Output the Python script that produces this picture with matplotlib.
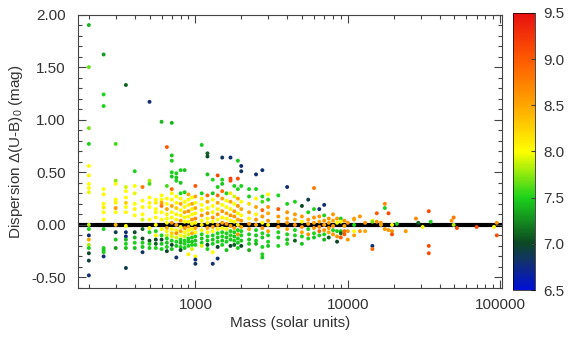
import numpy as np
import matplotlib
matplotlib.use('Agg')
import matplotlib.pyplot as plt
from matplotlib.colors import LinearSegmentedColormap
from matplotlib.ticker import FixedLocator, FormatStrFormatter, NullFormatter

plt.rcParams['font.family'] = ['Liberation Sans', 'DejaVu Sans']
plt.rcParams['mathtext.default'] = 'regular'
plt.rcParams['axes.unicode_minus'] = False

# points as (mass, dispersion, log age)
pts_200_600 = [
    (200, 1.90, 7.4), (200, 1.50, 7.65), (200, 0.92, 7.7), (200, 0.77, 7.5), (200, 0.56, 8.0), (200, 0.47, 8.05),
    (200, 0.39, 8.0), (200, 0.35, 8.0), (200, 0.31, 7.95), (200, 0.0, 7.85), (200, -0.04, 7.5), (200, -0.10, 6.8),
    (200, -0.14, 8.5), (200, -0.19, 7.8), (200, -0.22, 7.5), (200, -0.27, 7.0), (200, -0.34, 6.95), (200, -0.48, 6.8),
    (250, 1.62, 7.3), (250, 1.24, 7.5), (250, 1.13, 7.5), (250, 0.34, 8.0), (250, 0.29, 8.05), (250, 0.20, 8.0),
    (250, 0.165, 8.1), (250, 0.12, 8.0), (250, 0.05, 8.0), (250, -0.04, 7.5), (250, -0.22, 7.5), (250, -0.24, 7.45),
    (250, -0.26, 7.5), (250, -0.30, 6.8),
    (300, 0.77, 7.6), (300, 0.42, 7.75), (300, 0.39, 8.0), (300, 0.24, 8.0), (300, 0.21, 8.05), (300, 0.16, 8.6),
    (300, 0.12, 8.0), (300, 0.0, 8.4), (300, -0.07, 6.9), (300, -0.14, 7.45), (300, -0.22, 7.3),
    (350, 1.33, 7.1), (350, 0.36, 7.9), (350, 0.32, 8.0), (350, 0.26, 8.0), (350, 0.21, 8.3), (350, 0.17, 8.0),
    (350, 0.12, 8.05), (350, -0.01, 8.0), (350, -0.07, 6.8), (350, -0.11, 6.75), (350, -0.14, 7.4), (350, -0.18, 7.5),
    (350, -0.22, 7.45), (350, -0.41, 6.9),
    (400, 0.51, 7.5), (400, 0.37, 8.0), (400, 0.30, 7.95), (400, 0.20, 8.0), (400, 0.15, 8.05), (400, 0.09, 8.0),
    (400, -0.07, 7.0), (400, -0.12, 7.4), (400, -0.17, 7.5), (400, -0.22, 7.45),
    (450, 0.36, 8.8), (450, 0.23, 8.0), (450, 0.17, 8.05), (450, 0.10, 8.0), (450, 0.05, 7.9), (450, -0.04, 7.1),
    (450, -0.13, 7.0), (450, -0.17, 7.5), (450, -0.21, 7.45), (450, -0.26, 6.85),
    (500, 1.17, 6.8), (500, 0.42, 7.8), (500, 0.39, 7.6), (500, 0.26, 8.0), (500, 0.21, 8.05), (500, 0.17, 8.0),
    (500, 0.05, 8.0), (500, -0.03, 8.0), (500, -0.07, 7.5), (500, -0.15, 7.05), (500, -0.18, 7.5), (500, -0.22, 7.45),
    (550, 0.24, 8.0), (550, 0.21, 8.1), (550, 0.15, 8.0), (550, 0.12, 8.0), (550, 0.07, 8.05), (550, 0.0, 8.0),
    (550, -0.06, 7.5), (550, -0.10, 8.0), (550, -0.14, 7.0), (550, -0.18, 7.1), (550, -0.22, 7.5),
    (600, 0.98, 7.4), (600, 0.28, 8.0), (600, 0.24, 8.0), (600, 0.21, 8.5), (600, 0.18, 8.8), (600, 0.12, 8.0),
    (600, 0.05, 8.0), (600, -0.04, 8.0), (600, -0.10, 7.5), (600, -0.14, 7.0), (600, -0.18, 7.45), (600, -0.23, 7.5),
]

pts_650_1000 = [
    (650, 0.74, 9.0), (650, 0.37, 7.6), (650, 0.25, 8.0), (650, 0.20, 8.0), (650, 0.15, 8.5), (650, 0.10, 8.05),
    (650, 0.06, 8.0), (650, 0.02, 8.0), (650, -0.03, 8.5), (650, -0.06, 8.05), (650, -0.10, 7.9), (650, -0.13, 7.5),
    (650, -0.17, 7.45), (650, -0.21, 7.5), (650, -0.25, 7.0),
    (700, 0.97, 7.4), (700, 0.66, 7.45), (700, 0.61, 7.5), (700, 0.50, 7.5), (700, 0.46, 7.45), (700, 0.34, 8.9),
    (700, 0.30, 8.0), (700, 0.24, 8.05), (700, 0.18, 8.5), (700, 0.12, 8.0), (700, 0.07, 8.0), (700, 0.02, 8.6),
    (700, -0.04, 8.0), (700, -0.08, 8.3), (700, -0.11, 7.9), (700, -0.15, 7.5), (700, -0.19, 7.0), (700, -0.23, 7.45),
    (750, 0.49, 7.5), (750, 0.45, 7.45), (750, 0.42, 7.5), (750, 0.27, 8.0), (750, 0.21, 8.0), (750, 0.16, 8.3),
    (750, 0.10, 8.05), (750, 0.05, 8.0), (750, 0.0, 8.5), (750, -0.05, 8.0), (750, -0.08, 8.6), (750, -0.12, 7.9),
    (750, -0.16, 7.5), (750, -0.20, 7.45), (750, -0.31, 6.8),
    (800, 0.52, 7.5), (800, 0.40, 7.45), (800, 0.30, 7.5), (800, 0.25, 8.0), (800, 0.20, 8.5), (800, 0.14, 8.0),
    (800, 0.09, 8.05), (800, 0.04, 8.6), (800, -0.02, 8.0), (800, -0.06, 8.5), (800, -0.10, 8.0), (800, -0.14, 7.5),
    (800, -0.17, 7.4), (800, -0.21, 7.5), (800, -0.24, 7.0),
    (850, 0.52, 7.45), (850, 0.31, 7.5), (850, 0.22, 8.0), (850, 0.17, 8.05), (850, 0.12, 8.5), (850, 0.07, 8.0),
    (850, 0.03, 8.0), (850, -0.03, 8.6), (850, -0.07, 8.05), (850, -0.11, 7.9), (850, -0.15, 7.5), (850, -0.18, 7.5),
    (850, -0.22, 7.45),
    (900, 0.29, 8.5), (900, 0.24, 8.0), (900, 0.19, 8.05), (900, 0.13, 8.6), (900, 0.08, 8.0), (900, 0.03, 8.05),
    (900, -0.02, 8.5), (900, -0.05, 8.0), (900, -0.09, 7.9), (900, -0.13, 7.5), (900, -0.16, 7.45), (900, -0.20, 7.5),
    (900, -0.28, 8.05),
    (950, 0.26, 8.0), (950, 0.20, 8.5), (950, 0.15, 8.05), (950, 0.10, 8.0), (950, 0.05, 8.6), (950, 0.01, 8.0),
    (950, -0.04, 8.05), (950, -0.08, 8.5), (950, -0.12, 7.5), (950, -0.16, 7.45), (950, -0.19, 7.5), (950, -0.23, 7.9),
    (1000, 0.37, 9.0), (1000, 0.27, 8.5), (1000, 0.21, 8.0), (1000, 0.16, 8.5), (1000, 0.11, 8.05), (1000, 0.06, 8.7),
    (1000, 0.02, 8.0), (1000, -0.03, 8.5), (1000, -0.07, 8.0), (1000, -0.11, 7.5), (1000, -0.15, 7.45),
    (1000, -0.19, 7.5), (1000, -0.30, 8.0), (1000, -0.33, 6.8), (1000, -0.37, 6.85),
]

pts_1100_3000 = [
    (1100, 0.76, 7.45), (1100, 0.30, 7.5), (1100, 0.25, 8.1), (1100, 0.19, 8.0), (1100, 0.14, 8.05), (1100, 0.09, 8.6),
    (1100, 0.04, 8.0), (1100, 0.0, 8.1), (1100, -0.05, 8.0), (1100, -0.09, 7.5), (1100, -0.13, 7.45),
    (1100, -0.17, 7.5), (1100, -0.20, 7.9),
    (1200, 0.68, 7.1), (1200, 0.65, 7.05), (1200, 0.48, 7.45), (1200, 0.28, 8.9), (1200, 0.22, 8.5), (1200, 0.16, 8.0),
    (1200, 0.11, 8.6), (1200, 0.06, 8.0), (1200, 0.02, 8.05), (1200, -0.03, 8.5), (1200, -0.07, 8.0),
    (1200, -0.11, 7.5), (1200, -0.15, 7.45), (1200, -0.19, 7.0), (1200, -0.23, 7.5),
    (1300, 0.43, 7.5), (1300, 0.30, 7.45), (1300, 0.24, 8.0), (1300, 0.18, 8.0), (1300, 0.12, 8.05), (1300, 0.07, 8.6),
    (1300, 0.03, 8.0), (1300, -0.02, 8.5), (1300, -0.06, 8.0), (1300, -0.10, 7.5), (1300, -0.14, 7.45),
    (1300, -0.18, 7.5), (1300, -0.26, 8.0), (1300, -0.37, 6.8),
    (1400, 0.47, 9.1), (1400, 0.36, 7.5), (1400, 0.28, 8.9), (1400, 0.21, 8.5), (1400, 0.15, 8.05), (1400, 0.10, 8.6),
    (1400, 0.05, 8.0), (1400, 0.0, 8.5), (1400, -0.04, 8.0), (1400, -0.08, 7.5), (1400, -0.12, 7.45),
    (1400, -0.16, 7.5), (1400, -0.21, 7.0), (1400, -0.32, 6.8),
    (1500, 0.64, 6.85), (1500, 0.43, 7.5), (1500, 0.39, 7.45), (1500, 0.32, 8.9), (1500, 0.25, 8.5), (1500, 0.19, 8.0),
    (1500, 0.13, 8.6), (1500, 0.07, 8.05), (1500, 0.02, 8.5), (1500, -0.03, 8.0), (1500, -0.07, 7.5),
    (1500, -0.11, 7.5), (1500, -0.15, 7.45), (1500, -0.19, 7.5),
    (1600, 0.30, 7.5), (1600, 0.23, 8.0), (1600, 0.17, 8.0), (1600, 0.11, 8.5), (1600, 0.06, 8.0), (1600, 0.01, 8.6),
    (1600, -0.04, 8.0), (1600, -0.08, 7.5), (1600, -0.12, 7.45), (1600, -0.16, 7.5), (1600, -0.24, 7.45),
    (1700, 0.64, 6.8), (1700, 0.44, 9.2), (1700, 0.42, 9.1), (1700, 0.30, 8.1), (1700, 0.22, 8.5), (1700, 0.15, 8.05),
    (1700, 0.09, 8.6), (1700, 0.04, 8.0), (1700, -0.01, 8.5), (1700, -0.06, 7.5), (1700, -0.10, 7.5),
    (1700, -0.14, 7.45), (1700, -0.20, 7.0),
    (1800, 0.37, 7.5), (1800, 0.27, 7.9), (1800, 0.20, 8.0), (1800, 0.13, 8.5), (1800, 0.08, 8.6), (1800, 0.03, 8.0),
    (1800, -0.03, 8.5), (1800, -0.07, 7.5), (1800, -0.11, 7.45), (1800, -0.15, 7.5), (1800, -0.19, 7.1),
    (1900, 0.61, 7.45), (1900, 0.44, 9.1), (1900, 0.34, 7.5), (1900, 0.25, 8.5), (1900, 0.18, 8.6), (1900, 0.11, 8.0),
    (1900, 0.05, 8.5), (1900, 0.0, 8.05), (1900, -0.05, 7.5), (1900, -0.09, 8.6), (1900, -0.13, 7.5),
    (1900, -0.17, 7.45), (1900, -0.22, 7.5),
    (2000, 0.56, 6.8), (2000, 0.51, 6.85), (2000, 0.37, 7.5), (2000, 0.22, 8.0), (2000, 0.15, 8.5), (2000, 0.09, 8.0),
    (2000, 0.04, 8.6), (2000, -0.02, 8.5), (2000, -0.06, 7.5), (2000, -0.10, 7.5), (2000, -0.15, 7.45),
    (2000, -0.20, 7.0),
    (2250, 0.34, 7.5), (2250, 0.27, 7.5), (2250, 0.20, 8.2), (2250, 0.12, 8.5), (2250, 0.06, 8.0), (2250, 0.01, 8.6),
    (2250, -0.04, 8.5), (2250, -0.09, 7.5), (2250, -0.14, 7.45), (2250, -0.18, 7.5), (2250, -0.24, 7.4),
    (2500, 0.48, 6.8), (2500, 0.34, 7.5), (2500, 0.25, 8.0), (2500, 0.17, 8.5), (2500, 0.10, 8.05), (2500, 0.05, 8.6),
    (2500, 0.0, 8.5), (2500, -0.05, 7.5), (2500, -0.10, 7.45), (2500, -0.15, 7.5), (2500, -0.18, 7.4),
    (2750, 0.52, 6.8), (2750, 0.27, 7.5), (2750, 0.22, 7.6), (2750, 0.14, 8.9), (2750, 0.08, 8.6), (2750, 0.02, 8.0),
    (2750, -0.03, 8.6), (2750, -0.08, 7.5), (2750, -0.12, 7.45), (2750, -0.21, 7.5), (2750, -0.28, 7.5),
    (2750, -0.31, 7.45),
    (3000, 0.29, 8.0), (3000, 0.24, 7.5), (3000, 0.17, 8.6), (3000, 0.11, 8.5), (3000, 0.04, 8.6), (3000, 0.0, 8.05),
    (3000, -0.06, 8.5), (3000, -0.10, 7.5), (3000, -0.16, 7.5), (3000, -0.20, 7.45),
]

pts_3500_100000 = [
    (3500, 0.28, 7.5), (3500, 0.15, 9.0), (3500, 0.08, 8.6), (3500, 0.03, 8.5), (3500, -0.02, 8.6), (3500, -0.07, 7.5),
    (3500, -0.12, 7.45), (3500, -0.20, 7.5),
    (4000, 0.36, 6.8), (4000, 0.20, 7.5), (4000, 0.12, 8.6), (4000, 0.06, 8.5), (4000, 0.02, 8.6), (4000, -0.04, 8.5),
    (4000, -0.09, 7.5), (4000, -0.14, 7.45), (4000, -0.18, 7.5),
    (4500, 0.22, 7.5), (4500, 0.10, 8.6), (4500, 0.05, 8.5), (4500, 0.0, 8.6), (4500, -0.05, 7.5), (4500, -0.10, 7.5),
    (4500, -0.15, 7.1),
    (5000, 0.18, 7.0), (5000, 0.08, 8.6), (5000, 0.03, 8.0), (5000, -0.02, 8.6), (5000, -0.07, 8.5),
    (5000, -0.11, 7.5), (5000, -0.18, 7.45),
    (5500, 0.24, 6.9), (5500, 0.12, 7.5), (5500, 0.05, 8.6), (5500, 0.01, 8.5), (5500, -0.04, 7.5), (5500, -0.09, 8.6),
    (5500, -0.13, 7.5),
    (6000, 0.35, 8.8), (6000, 0.15, 7.5), (6000, 0.07, 8.6), (6000, 0.02, 8.5), (6000, -0.03, 8.6), (6000, -0.08, 7.5),
    (6000, -0.12, 7.45),
    (6500, 0.15, 6.8), (6500, 0.08, 8.6), (6500, 0.03, 8.5), (6500, -0.02, 8.6), (6500, -0.06, 8.9), (6500, -0.10, 7.5),
    (7000, 0.19, 6.8), (7000, 0.09, 7.5), (7000, 0.04, 8.6), (7000, 0.0, 8.5), (7000, -0.05, 8.6), (7000, -0.09, 7.5),
    (7000, -0.14, 7.4),
    (7500, 0.06, 8.6), (7500, 0.02, 8.5), (7500, -0.03, 8.6), (7500, -0.07, 8.5), (7500, -0.12, 7.1),
    (8000, 0.10, 8.6), (8000, 0.04, 8.5), (8000, -0.01, 8.6), (8000, -0.05, 7.5), (8000, -0.09, 8.6),
    (8500, 0.06, 8.6), (8500, 0.02, 8.0), (8500, -0.06, 7.5), (8500, -0.11, 8.6), (8500, -0.16, 7.0),
    (9000, 0.06, 7.5), (9000, 0.03, 8.0), (9000, -0.06, 7.5), (9000, -0.08, 7.1), (9000, -0.12, 9.0),
    (9500, 0.04, 8.6), (9500, -0.01, 8.5), (9500, -0.06, 8.9), (9500, -0.09, 9.0),
    (10000, 0.02, 8.6), (10000, -0.06, 8.6), (10000, -0.14, 8.6),
    (11000, 0.06, 8.6), (11000, 0.05, 8.5), (11000, 0.0, 7.5), (11000, -0.06, 8.0), (11000, -0.10, 8.6),
    (12000, 0.08, 8.6), (12000, -0.06, 8.6),
    (13000, 0.02, 8.6), (13000, -0.06, 8.5),
    (14500, 0.04, 8.0), (14500, 0.03, 7.7), (14500, -0.20, 6.8), (14500, -0.23, 8.9),
    (15500, 0.11, 9.0), (15500, 0.03, 8.6),
    (16500, 0.02, 8.6), (16500, 0.0, 8.5),
    (17500, 0.20, 8.7), (17500, 0.16, 7.5), (17500, -0.04, 8.6),
    (18500, 0.11, 9.1), (18500, -0.05, 8.6),
    (19500, 0.0, 8.0), (19500, -0.06, 8.6), (19500, -0.09, 9.1),
    (21000, 0.01, 7.5), (24000, -0.06, 8.6),
    (28000, 0.06, 8.7), (29000, 0.02, 7.1), (31000, -0.02, 8.0),
    (34000, 0.13, 9.1), (34000, -0.20, 9.1), (34000, -0.27, 9.1), (35000, 0.03, 7.5),
    (48000, 0.04, 8.6), (49500, 0.07, 8.8), (49500, 0.0, 7.8), (52000, -0.03, 9.1),
    (70000, -0.02, 9.1),
    (91000, -0.02, 8.0), (95000, 0.02, 8.6), (95000, -0.10, 9.1),
]

age_min, age_max = 6.5, 9.5
cbar_ticks = [6.5, 7.0, 7.5, 8.0, 8.5, 9.0, 9.5]
y_ticks = [-0.5, 0.0, 0.5, 1.0, 1.5, 2.0]
x_ticks = [1000, 10000, 100000]

cmap = LinearSegmentedColormap.from_list('age', [
    (0.0, '#0010d8'), (0.1, '#123070'), (0.17, '#0c4a22'), (0.333, '#1cd21c'),
    (0.5, '#ffff00'), (0.667, '#ffa600'), (0.833, '#ff5a00'), (1.0, '#e81010')])

pts = np.array(pts_200_600 + pts_650_1000 + pts_1100_3000 + pts_3500_100000)

fig = plt.figure(figsize=(5.7, 3.38), dpi=100)
ax = fig.add_axes([0.137, 0.148, 0.744, 0.809])
ax.axhline(0, color='black', lw=3, zorder=1)
sc = ax.scatter(pts[:, 0], pts[:, 1], c=pts[:, 2], cmap=cmap, vmin=age_min, vmax=age_max,
                s=8, linewidths=0, zorder=2)
ax.set_xscale('log')
ax.set_xlim(170, 103000)
ax.set_ylim(-0.6, 2.0)

tc = '#333333'
ax.xaxis.set_major_locator(FixedLocator(x_ticks))
ax.xaxis.set_major_formatter(FormatStrFormatter('%d'))
ax.xaxis.set_minor_formatter(NullFormatter())
ax.set_yticks(y_ticks)
ax.yaxis.set_major_formatter(FormatStrFormatter('%.2f'))
ax.yaxis.set_minor_locator(FixedLocator(np.arange(-0.6, 2.01, 0.1)))
ax.tick_params(which='both', direction='in', top=True, right=True, colors='#444444',
               labelcolor=tc, labelsize=11)
ax.tick_params(axis='y', which='major', pad=9)
ax.tick_params(axis='x', which='major', pad=7)
ax.tick_params(which='major', length=6, width=0.8)
ax.tick_params(which='minor', length=3, width=0.8)
for s in ax.spines.values():
    s.set_color('#444444')
ax.set_xlabel('Mass (solar units)', fontsize=11, color=tc, labelpad=3)
ax.set_ylabel('Dispersion Δ(U-B)$_0$ (mag)', fontsize=11, color=tc, labelpad=4)

cax = fig.add_axes([0.900, 0.142, 0.0386, 0.820])
cb = fig.colorbar(sc, cax=cax, ticks=cbar_ticks)
cb.ax.yaxis.set_major_formatter(FormatStrFormatter('%.1f'))
cb.ax.tick_params(direction='in', length=3, colors='#444444', labelcolor=tc, labelsize=11, pad=6)
cb.outline.set_linewidth(0.5)

plt.savefig('out.png', dpi=100)
